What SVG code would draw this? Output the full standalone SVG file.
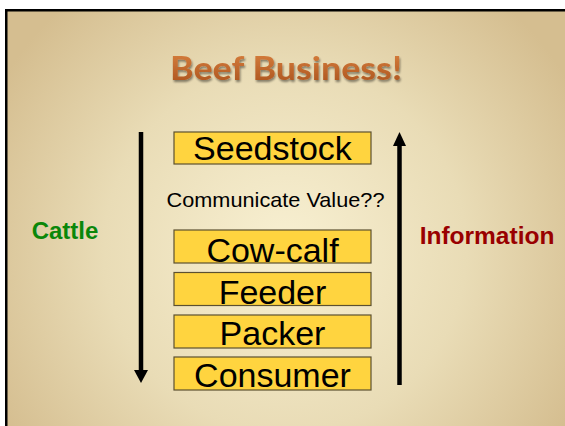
<svg xmlns="http://www.w3.org/2000/svg" width="565" height="426" viewBox="0 0 565 426">
<defs>
<radialGradient id="bg" cx="285" cy="250" r="330" gradientUnits="userSpaceOnUse">
<stop offset="0" stop-color="#F8F0D2"/>
<stop offset="0.55" stop-color="#E9DCB6"/>
<stop offset="1" stop-color="#D5BE90"/>
</radialGradient>
<linearGradient id="tg" x1="0" y1="0" x2="0" y2="1">
<stop offset="0" stop-color="#DC8440"/>
<stop offset="1" stop-color="#A8501C"/>
</linearGradient>
<filter id="sh" x="-10%" y="-20%" width="120%" height="150%">
<feGaussianBlur in="SourceAlpha" stdDeviation="0.8"/>
<feOffset dx="1" dy="1.5" result="b"/>
<feComponentTransfer><feFuncA type="linear" slope="0.45"/></feComponentTransfer>
<feMerge><feMergeNode/><feMergeNode in="SourceGraphic"/></feMerge>
</filter>
</defs>
<style>
.box{fill:#FFD43F;stroke:#5C5030;stroke-width:1.2}
.bt{font-family:"Liberation Sans",Arial,sans-serif;font-size:34px;fill:#000;text-anchor:middle}
.lbl{font-family:"Liberation Sans",Arial,sans-serif;font-weight:bold}
.arr{stroke:#000;stroke-width:4.5;fill:none}
</style>
<rect x="0" y="0" width="565" height="426" fill="#FFFFFF"/>
<rect x="5" y="9" width="560" height="417" fill="url(#bg)"/>
<rect x="5" y="9" width="560" height="2.5" fill="#000"/>
<rect x="5" y="9" width="2.5" height="417" fill="#000"/>
<text x="286" y="80" font-family="Lato,'Open Sans',sans-serif" font-weight="bold" font-size="32" fill="url(#tg)" text-anchor="middle" textLength="232" lengthAdjust="spacingAndGlyphs" filter="url(#sh)">Beef Business!</text>
<g id="connectors">
<line class="arr" x1="141" y1="132" x2="141" y2="372"/>
<polygon points="134,370 148,370 141,383" fill="#000"/>
<line class="arr" x1="399.5" y1="144" x2="399.5" y2="385"/>
<polygon points="393,146 406,146 399.5,132" fill="#000"/>
</g>
<g id="seedstock"><rect class="box" x="174" y="132" width="197" height="32"/><text class="bt" x="272.5" y="160">Seedstock</text></g>
<g id="communicate"><text x="275.5" y="207" font-family="'Liberation Sans',Arial,sans-serif" font-size="21" text-anchor="middle" textLength="218" lengthAdjust="spacingAndGlyphs">Communicate Value??</text></g>
<g id="cowcalf"><rect class="box" x="174" y="230" width="197" height="33"/><text class="bt" x="272.5" y="261.5">Cow-calf</text></g>
<g id="feeder"><rect class="box" x="174" y="272.5" width="197" height="33"/><text class="bt" x="272.5" y="303.5">Feeder</text></g>
<g id="packer"><rect class="box" x="174" y="315" width="197" height="33"/><text class="bt" x="272.5" y="345">Packer</text></g>
<g id="consumer"><rect class="box" x="174" y="357" width="197" height="33"/><text class="bt" x="272.5" y="386.5">Consumer</text></g>
<g id="cattle"><text class="lbl" x="65" y="239" font-size="24" fill="#0A870A" text-anchor="middle">Cattle</text></g>
<g id="information"><text class="lbl" x="487" y="244" font-size="24.5" fill="#990000" text-anchor="middle">Information</text></g>
</svg>
